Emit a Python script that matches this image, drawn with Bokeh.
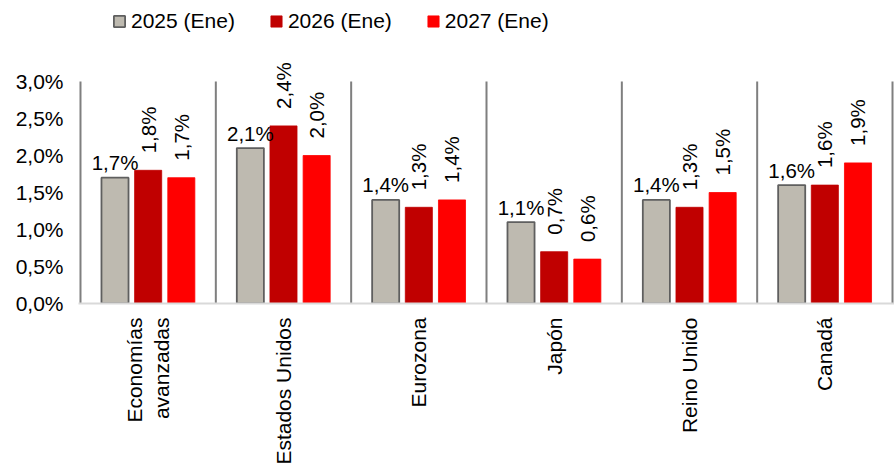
import math
from bokeh.plotting import figure
from bokeh.models import (ColumnDataSource, FactorRange, FixedTicker, Legend,
                          LegendItem, Range1d)
from bokeh.transform import dodge
from bokeh.core.properties import value
from bokeh.embed import file_html
from bokeh.resources import INLINE

# ---------------- data ----------------
categories = ["Economías\navanzadas", "Estados Unidos", "Eurozona", "Japón",
              "Reino Unido", "Canadá"]
series_names = ["2025 (Ene)", "2026 (Ene)", "2027 (Ene)"]
v2025 = [1.7, 2.1, 1.4, 1.1, 1.4, 1.6]
v2026 = [1.8, 2.4, 1.3, 0.7, 1.3, 1.6]
v2027 = [1.7, 2.0, 1.4, 0.6, 1.5, 1.9]
y_ticks = [0.0, 0.5, 1.0, 1.5, 2.0, 2.5, 3.0]
y_tick_labels = ["0,0%", "0,5%", "1,0%", "1,5%", "2,0%", "2,5%", "3,0%"]
separators = [0, 1, 2, 3, 4, 5, 6]

FONT = "Liberation Sans"
colors = ["#BEBAB0", "#C00000", "#FF0000"]
outline = ["#5F5F5F", "#C00000", "#FF0000"]
offsets = [-0.245, 0.0, 0.245]

Y_MAX = 3.0
Y_TOP = 3.0 * 303 / 222   # headroom so the legend/labels sit inside the frame


def fmt(v):
    return f"{v:.1f}".replace(".", ",") + "%"


src = ColumnDataSource(dict(
    cat=categories,
    v2025=v2025, v2026=v2026, v2027=v2027,
    l2025=[fmt(v) for v in v2025],
    l2026=[fmt(v) for v in v2026],
    l2027=[fmt(v) for v in v2027],
))

p = figure(width=894, height=469, output_backend="svg", toolbar_location=None,
           x_range=FactorRange(*categories, range_padding=0.0049,
                               range_padding_units="percent", factor_padding=0),
           y_range=Range1d(0, Y_TOP),
           min_border_left=78, min_border_right=0, min_border_top=0,
           min_border_bottom=166)
p.outline_line_color = None
p.xgrid.grid_line_color = None
p.ygrid.grid_line_color = None
p.background_fill_color = "white"
p.border_fill_color = "white"

# separators between categories
sep_src = ColumnDataSource(dict(x=separators, y0=[0] * len(separators),
                                y1=[Y_MAX] * len(separators)))
p.segment(x0="x", y0="y0", x1="x", y1="y1", source=sep_src,
          line_color="#7F7F7F", line_width=2)

renderers = []
for i, (col, name) in enumerate(zip(["v2025", "v2026", "v2027"], series_names)):
    r = p.vbar(x=dodge("cat", offsets[i], range=p.x_range), top=col, width=0.2,
               source=src, fill_color=colors[i], line_color=outline[i],
               line_width=1.8 if i == 0 else 0.8)
    renderers.append(r)

# data labels
p.text(x=dodge("cat", offsets[0], range=p.x_range), y="v2025", text="l2025",
       source=src, text_font=value(FONT), text_font_size="20.5px",
       text_align="center", text_baseline="alphabetic", y_offset=-15,
       text_color="black")
for i, lab, col in [(1, "l2026", "v2026"), (2, "l2027", "v2027")]:
    p.text(x=dodge("cat", offsets[i], range=p.x_range), y=col, text=lab,
           source=src, text_font=value(FONT), text_font_size="20.5px",
           text_align="left", text_baseline="middle", angle=math.pi / 2,
           y_offset=-17, text_color="black")

# axes
xa = p.xaxis[0]
xa.axis_line_color = "#D9D9D9"
xa.axis_line_width = 2
xa.major_tick_line_color = None
xa.minor_tick_line_color = None
xa.major_tick_in = 0
xa.major_tick_out = 0
xa.major_label_orientation = math.pi / 2
xa.major_label_standoff = 14
xa.major_label_text_font = FONT
xa.major_label_text_font_size = "21px"
xa.major_label_text_color = "black"

ya = p.yaxis[0]
ya.ticker = FixedTicker(ticks=y_ticks)
ya.major_label_overrides = dict(zip(y_ticks, y_tick_labels))
ya.axis_line_color = None
ya.major_tick_line_color = None
ya.minor_tick_line_color = None
ya.major_tick_in = 0
ya.major_tick_out = 0
ya.major_label_standoff = 15
ya.major_label_text_font = FONT
ya.major_label_text_font_size = "21px"
ya.major_label_text_color = "black"

legend = Legend(items=[LegendItem(label=n, renderers=[r])
                       for n, r in zip(series_names, renderers)],
                orientation="horizontal", location=(34, 270),
                border_line_color=None, background_fill_alpha=0,
                label_text_font=FONT, label_text_font_size="21px",
                label_text_color="black",
                glyph_width=14, glyph_height=14, spacing=34, label_standoff=5,
                padding=0, margin=0)
p.add_layout(legend)

open("out.html", "w").write(file_html(p, INLINE))
